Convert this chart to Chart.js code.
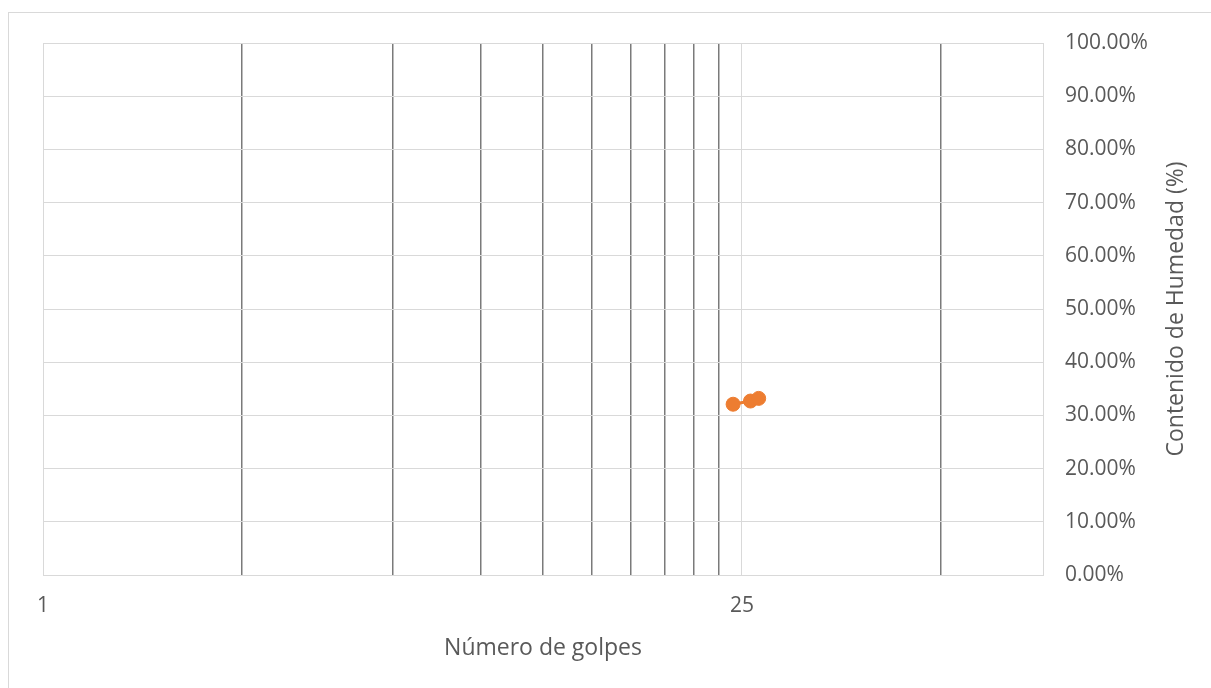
<!DOCTYPE html>
<html>
<head>
<meta charset="utf-8">
<title>Número de golpes vs Contenido de Humedad</title>
<script src="https://cdn.jsdelivr.net/npm/chart.js@4/dist/chart.umd.min.js"></script>
<style>
  html, body { margin: 0; padding: 0; background: #ffffff; }
  #wrap { width: 1211px; height: 688px; position: relative; }
</style>
</head>
<body>
<div id="wrap"><canvas id="chart" width="1211" height="688"></canvas></div>
<script>
// Ensayo de límite líquido: número de golpes y contenido de humedad
const golpes = [24, 26, 27];
const humedad = [0.321, 0.327, 0.332];

// Eje X logarítmico (base 25): marcas principales y secundarias
const xMajorTicks = [1, 25, 100];
const xMinorTicks = [2.5, 5, 7.5, 10, 12.5, 15, 17.5, 20, 22.5, 62.5];
const xTickLabels = ['1', '25'];

// Eje Y: 0 % a 100 % cada 10 %
const yTicks = [0, 0.1, 0.2, 0.3, 0.4, 0.5, 0.6, 0.7, 0.8, 0.9, 1.0];

const xTitle = 'Número de golpes';
const yTitle = 'Contenido de Humedad (%)';

const FONT = '"Open Sans", "DejaVu Sans", sans-serif';
const TICK_SIZE = 21;
const TITLE_SIZE = 23;
const TEXT = '#595959';
const LIGHT = '#d9d9d9';
const DARK = '#7a7a7a';

// Marco exterior y título vertical del eje derecho
const extras = {
  id: 'extras',
  beforeDraw(chart) {
    const c = chart.ctx;
    c.save();
    c.strokeStyle = LIGHT;
    c.lineWidth = 1;
    c.strokeRect(8.5, 12.5, 1300, 800);
    c.restore();
  },
  afterDraw(chart) {
    const c = chart.ctx;
    const a = chart.chartArea;
    c.save();
    c.fillStyle = TEXT;
    c.font = TITLE_SIZE + 'px ' + FONT;
    c.textAlign = 'center';
    c.textBaseline = 'middle';
    c.translate(1176, (a.top + a.bottom) / 2);
    c.rotate(-Math.PI / 2);
    c.fillText(yTitle, 0, 0);
    c.restore();
  }
};

const allX = [...xMajorTicks, ...xMinorTicks].sort((p, q) => p - q);

new Chart(document.getElementById('chart'), {
  type: 'scatter',
  data: {
    datasets: [{
      data: golpes.map((g, i) => ({ x: g, y: humedad[i] })),
      showLine: true,
      borderColor: '#ED7D31',
      backgroundColor: '#ED7D31',
      borderWidth: 3,
      pointRadius: 7,
      pointHoverRadius: 7,
      pointBorderWidth: 1
    }]
  },
  options: {
    responsive: false,
    animation: false,
    devicePixelRatio: 1,
    layout: { padding: { top: 43, left: 43, right: 0, bottom: 0 } },
    plugins: { legend: { display: false }, tooltip: { enabled: false } },
    scales: {
      x: {
        type: 'logarithmic',
        position: 'bottom',
        min: 1,
        max: 100,
        afterBuildTicks(scale) {
          scale.ticks = allX.map(v => ({ value: v }));
        },
        afterFit(scale) { scale.height = 113; },
        grid: {
          drawTicks: false,
          color: ctx => (ctx.tick && xMajorTicks.includes(ctx.tick.value)) ? LIGHT : DARK,
          lineWidth: ctx => (ctx.tick && xMajorTicks.includes(ctx.tick.value)) ? 1 : 1.5
        },
        border: { color: LIGHT },
        ticks: {
          autoSkip: false,
          maxRotation: 0,
          padding: 18,
          color: TEXT,
          font: { family: FONT, size: TICK_SIZE },
          callback: v => xTickLabels.includes(String(v)) ? String(v) : ''
        },
        title: {
          display: true,
          text: xTitle,
          color: TEXT,
          font: { family: FONT, size: TITLE_SIZE },
          padding: { top: 0, bottom: 26 }
        }
      },
      y: {
        position: 'right',
        min: 0,
        max: 1,
        afterBuildTicks(scale) {
          scale.ticks = yTicks.map(v => ({ value: v }));
        },
        afterFit(scale) { scale.width = 168; },
        grid: { drawTicks: false, color: LIGHT, lineWidth: 1 },
        border: { color: LIGHT },
        ticks: {
          padding: 22,
          color: TEXT,
          font: { family: FONT, size: TICK_SIZE },
          callback: v => (v * 100).toFixed(2) + '%'
        }
      }
    }
  },
  plugins: [extras]
});
</script>
</body>
</html>
